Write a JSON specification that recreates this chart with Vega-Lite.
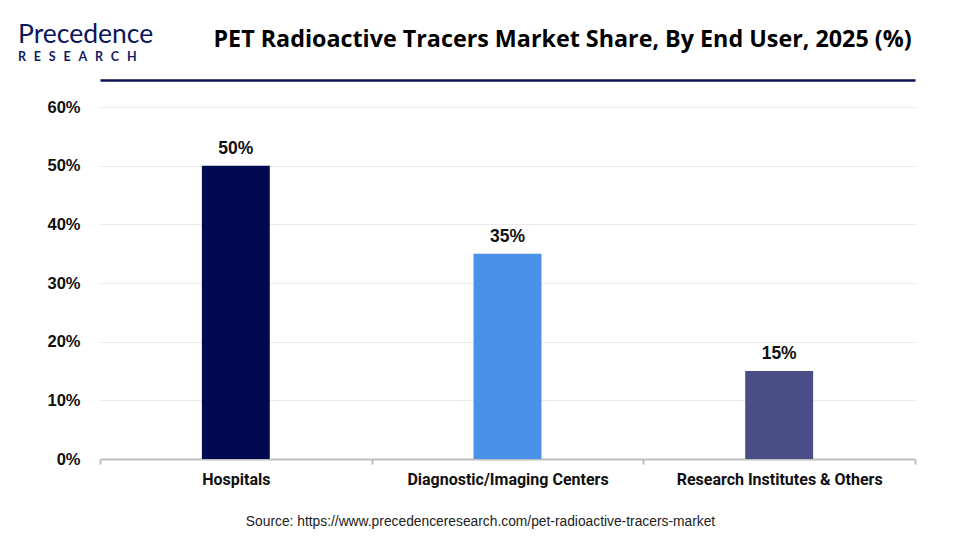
{
  "$schema": "https://vega.github.io/schema/vega-lite/v6.json",
  "width": 815,
  "height": 352,
  "autosize": {"type": "none"},
  "padding": {"left": 100, "top": 107, "right": 45, "bottom": 81},
  "background": "white",
  "title": {
    "text": "Precedence",
    "subtitle": "R\u2002\u2009E\u2002\u2009S\u2002\u2009E\u2002\u2009A\u2002\u2009R\u2002\u2009C\u2002\u2009H",
    "anchor": "start",
    "frame": "group",
    "dx": -82,
    "offset": -36,
    "font": "Lato",
    "fontSize": 26.5,
    "fontWeight": "normal",
    "color": "#0b1660",
    "subtitleFont": "Lato",
    "subtitleFontSize": 12.5,
    "subtitleFontWeight": "bold",
    "subtitleColor": "#101c66",
    "subtitlePadding": 2
  },
  "data": {
    "values": [
      {"category": "Hospitals", "share": 50, "label": "50%"},
      {"category": "Diagnostic/Imaging Centers", "share": 35, "label": "35%"},
      {"category": "Research Institutes & Others", "share": 15, "label": "15%"}
    ]
  },
  "layer": [
    {
      "mark": {"type": "bar", "width": {"band": 0.25}},
      "encoding": {
        "x": {
          "field": "category",
          "type": "nominal",
          "sort": null,
          "scale": {"paddingInner": 0, "paddingOuter": 0},
          "axis": {
            "orient": "bottom",
            "title": "Source: https://www.precedenceresearch.com/pet-radioactive-tracers-market",
            "titleFont": "Liberation Sans",
            "titleFontSize": 13.8,
            "titleFontWeight": "normal",
            "titleColor": "#222222",
            "titleX": 380,
            "titleY": 62,
            "titleAlign": "center",
            "titleBaseline": "middle",
            "labelAngle": 0,
            "labelFont": "Roboto",
            "labelFontSize": 16,
            "labelFontWeight": "bold",
            "labelColor": "#111111",
            "labelPadding": 7,
            "labelLimit": 400,
            "domainColor": "#bdbdbd",
            "domainWidth": 2,
            "tickBand": "extent",
            "tickColor": "#bdbdbd",
            "tickWidth": 2,
            "tickSize": 5,
            "grid": false
          }
        },
        "y": {
          "field": "share",
          "type": "quantitative",
          "scale": {"domain": [0, 60]},
          "axis": {
            "title": "PET Radioactive Tracers Market Share, By End User, 2025 (%)",
            "titleAngle": 0,
            "titleX": 462,
            "titleY": -68,
            "titleAlign": "center",
            "titleBaseline": "middle",
            "titleFont": "Open Sans",
            "titleFontSize": 23.3,
            "titleFontWeight": "bold",
            "titleColor": "#000000",
            "values": [0, 10, 20, 30, 40, 50, 60],
            "labelExpr": "datum.value + '%'",
            "labelFont": "Liberation Sans",
            "labelFontSize": 16.5,
            "labelFontWeight": "bold",
            "labelColor": "#111111",
            "labelPadding": 20,
            "ticks": false,
            "domain": false,
            "gridColor": "#ebebeb",
            "gridWidth": 1
          }
        },
        "color": {
          "field": "category",
          "type": "nominal",
          "sort": null,
          "scale": {
            "domain": ["Hospitals", "Diagnostic/Imaging Centers", "Research Institutes & Others"],
            "range": ["#020950", "#4a91ea", "#4a4e86"]
          },
          "legend": null
        }
      }
    },
    {
      "mark": {
        "type": "text",
        "baseline": "bottom",
        "dy": -8,
        "font": "Liberation Sans",
        "fontSize": 17.5,
        "fontWeight": "bold",
        "color": "#111111"
      },
      "encoding": {
        "x": {
          "field": "category",
          "type": "nominal",
          "sort": null,
          "axis": {
            "orient": "top",
            "offset": 27,
            "labels": false,
            "ticks": false,
            "title": null,
            "domainColor": "#0b1450",
            "domainWidth": 2.5,
            "grid": false
          }
        },
        "y": {"field": "share", "type": "quantitative"},
        "text": {"field": "label", "type": "nominal"}
      }
    }
  ],
  "resolve": {"axis": {"x": "independent"}},
  "config": {"view": {"stroke": null}}
}
